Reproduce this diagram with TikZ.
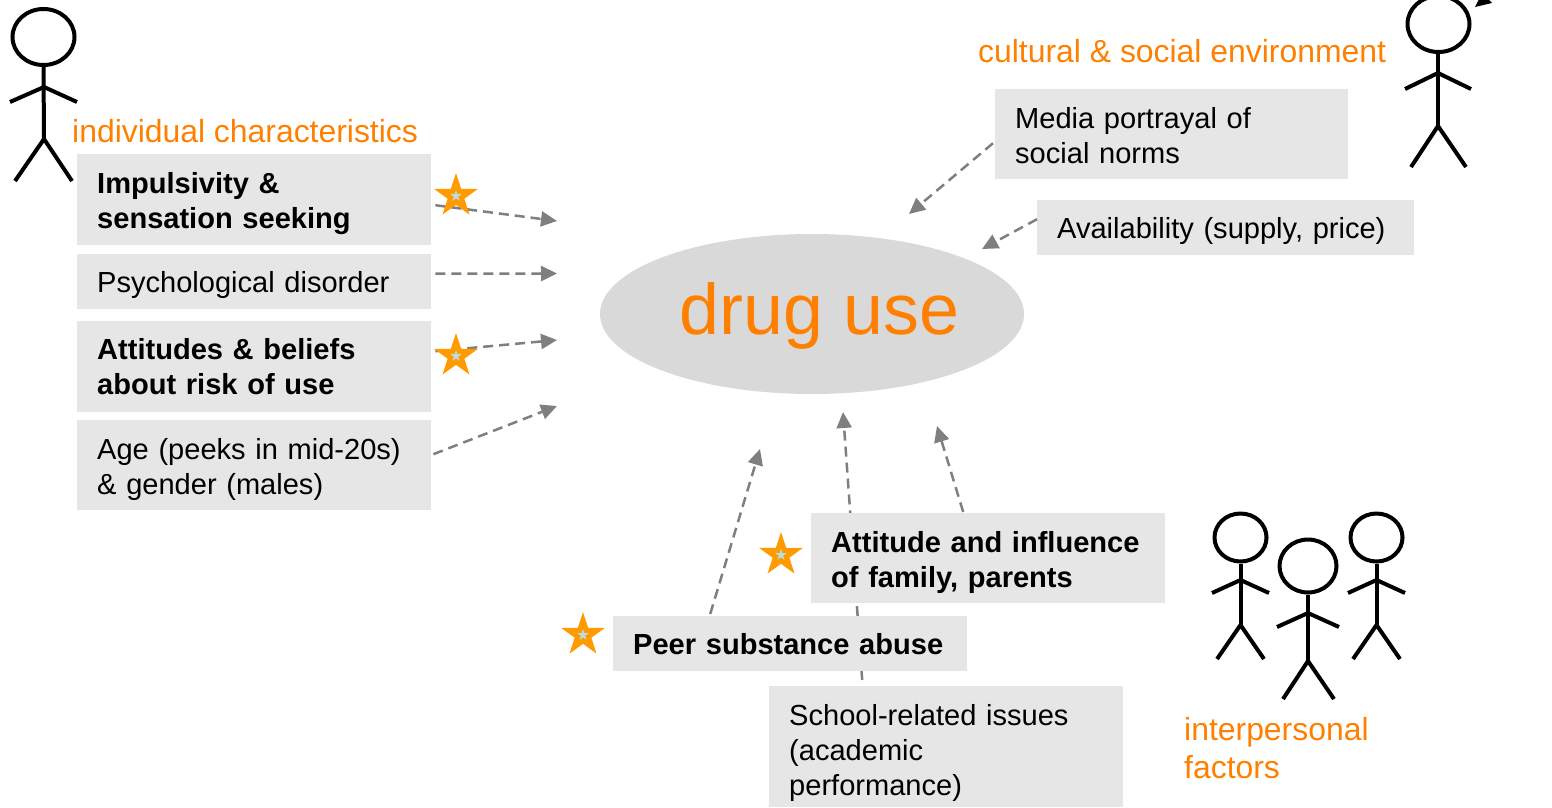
\documentclass[tikz,border=0pt]{standalone}
\usepackage{fontspec}
\setmainfont{Liberation Sans}
\usetikzlibrary{shapes.geometric,arrows.meta}
\definecolor{boxgray}{HTML}{E6E6E6}
\definecolor{ovalgray}{HTML}{D9D9D9}
\definecolor{orangetxt}{HTML}{FF8000}
\definecolor{arrowgray}{HTML}{7F7F7F}
\definecolor{starorange}{HTML}{FF9A00}
\definecolor{starblue}{HTML}{B9DDE0}
\newcommand{\bodyfont}{\fontsize{29.05pt}{35pt}\selectfont}
\tikzset{
  box/.style={fill=boxgray,draw=none,rectangle,anchor=north west,minimum width=354pt,inner sep=0pt},
  boxtext/.style={anchor=west,inner xsep=20pt,inner ysep=0pt,text width=330pt,align=left,font=\bodyfont},
  heading/.style={text=orangetxt,anchor=base west,inner sep=0pt,font=\fontsize{31.9pt}{38.6pt}\selectfont},
  flow/.style={draw=arrowgray,line width=2.5pt,dash pattern=on 10pt off 6pt,-{Triangle[length=16pt,width=15pt]}},
  bigstar/.style={star,star points=5,star point ratio=2.618,fill=starorange,draw=none,minimum size=46pt,inner sep=0pt},
  tinystar/.style={star,star points=5,star point ratio=2.618,fill=starblue,draw=none,minimum size=12pt,inner sep=0pt},
  limb/.style={draw=black,line width=4pt},
  head/.style={ellipse,draw=black,line width=4pt,inner sep=0pt,fill=none}
}
\begin{document}
\begin{tikzpicture}[x=1pt,y=-1pt]
\useasboundingbox (0,0) rectangle (1552,807);
\clip (0,0) rectangle (1552,807);
% arrow targets
\coordinate (t1) at (557,221);
\coordinate (t2) at (557,273.5);
\coordinate (t3) at (557,340);
\coordinate (t4) at (557,406);
\coordinate (t5) at (909,214);
\coordinate (t6) at (982,249);
\coordinate (t7) at (760,449);
\coordinate (t8) at (843,412);
\coordinate (t9) at (937,426);
% oval
\node[ellipse,fill=ovalgray,draw=none,minimum width=424pt,minimum height=160pt,inner sep=0pt] (drug) at (812,314) {};
\node[text=orangetxt,font=\fontsize{71.8pt}{71.8pt}\selectfont,inner sep=0pt,anchor=base] (druglabel) at (819.5,334) {drug use};
% school connector runs behind the boxes
\node[box,minimum height=121pt] (school) at (769,686) {};
\node[boxtext,yshift=-6pt] (schooltext) at (school.west) {School-related issues\\(academic\\performance)};
\draw[flow] ([xshift=-84pt,yshift=6pt]school.north) -- (t8);
% boxes
\node[box,minimum height=91pt] (imp) at (77,154) {};
\node[boxtext,yshift=-4pt] (imptext) at (imp.west) {\textbf{Impulsivity \&}\\\textbf{sensation seeking}};
\node[box,minimum height=55pt] (psy) at (77,254) {};
\node[boxtext,yshift=-3pt] (psytext) at (psy.west) {Psychological disorder};
\node[box,minimum height=91pt] (att) at (77,321) {};
\node[boxtext] (atttext) at (att.west) {\textbf{Attitudes \& beliefs}\\\textbf{about risk of use}};
\node[box,minimum height=90pt] (age) at (77,420) {};
\node[boxtext,yshift=-4pt] (agetext) at (age.west) {Age (peeks in mid-20s)\\\& gender (males)};
\node[box,minimum height=90pt,minimum width=353pt] (media) at (995,89) {};
\node[boxtext,yshift=-1pt] (mediatext) at (media.west) {Media portrayal of\\social norms};
\node[box,minimum height=55pt,minimum width=377pt] (avail) at (1037,200) {};
\node[boxtext,yshift=-3pt] (availtext) at (avail.west) {Availability (supply, price)};
\node[box,minimum height=90pt] (fam) at (811,513) {};
\node[boxtext,yshift=-4pt] (famtext) at (fam.west) {\textbf{Attitude and influence}\\\textbf{of family, parents}};
\node[box,minimum height=55pt] (peer) at (613,616) {};
\node[boxtext] (peertext) at (peer.west) {\textbf{Peer substance abuse}};
% connectors
\draw[flow] ([xshift=4pt,yshift=-5.5pt]imp.east) -- (t1);
\draw[flow] ([xshift=4pt,yshift=8pt]psy.east) -- (t2);
\draw[flow] ([xshift=4pt,yshift=15.5pt]att.east) -- (t3);
\draw[flow] ([xshift=2pt,yshift=11pt]age.east) -- (t4);
\draw[flow] ([xshift=-2pt,yshift=-9pt]media.west) -- (t5);
\draw[flow] ([yshift=8.5pt]avail.west) -- (t6);
\draw[flow] ([xshift=-80pt,yshift=2pt]peer.north) -- (t7);
\draw[flow] ([xshift=-25pt,yshift=1pt]fam.north) -- (t9);
% stars
\foreach \n/\sx/\sy in {a/456/196,b/456/356,c/781/555,d/583/635}{
  \node[bigstar] (big\n) at (\sx,\sy) {};
  \node[tinystar] (small\n) at (\sx,\sy) {};
}
% headings
\node[heading] (hind) at (72,142) {individual characteristics};
\node[heading] (hcul) at (978,62) {cultural \& social environment};
\node[heading,align=left,anchor=north west,yshift=-7pt] (hint) at (1184,710) {interpersonal\\factors};
% left figure
\node[head,minimum width=62pt,minimum height=56pt] (h1) at (43.5,37) {};
\coordinate (s1) at (44,87); \coordinate (w1) at (44,139);
\draw[limb] (h1.south) -- (w1);
\draw[limb] (10,102) -- (s1) -- (77,102);
\draw[limb] (15,181) -- (w1) -- (72,181);
% right figure
\node[head,minimum width=62pt,minimum height=56pt] (h2) at (1438.5,24) {};
\coordinate (s2) at (1438,73); \coordinate (w2) at (1438,126);
\draw[limb] (1438,51) -- (w2);
\draw[limb] (1405,89) -- (s2) -- (1471,89);
\draw[limb] (1411,167) -- (w2) -- (1466,167);
\fill[black] (1475,7) -- (1492,3) -- (1488,-1) -- (1479,-1) -- cycle;
% group figures
\node[head,minimum width=52pt,minimum height=48pt] (h3) at (1240.5,537.5) {};
\coordinate (s3) at (1240.5,580); \coordinate (w3) at (1240.5,625);
\draw[limb] (h3.south) -- (w3);
\draw[limb] (1212,593) -- (s3) -- (1269,593);
\draw[limb] (1217,659) -- (w3) -- (1264,659);
\node[head,minimum width=52pt,minimum height=48pt] (h4) at (1376.5,537.5) {};
\coordinate (s4) at (1376.5,580); \coordinate (w4) at (1376.5,625);
\draw[limb] (h4.south) -- (w4);
\draw[limb] (1348,593) -- (s4) -- (1405,593);
\draw[limb] (1353,659) -- (w4) -- (1400,659);
\node[head,minimum width=57pt,minimum height=53pt] (h5) at (1308,566) {};
\coordinate (s5) at (1308,613); \coordinate (w5) at (1308,661);
\draw[limb] (h5.south) -- (w5);
\draw[limb] (1277,627) -- (s5) -- (1339,627);
\draw[limb] (1283,699) -- (w5) -- (1334,699);
\end{tikzpicture}
\end{document}
